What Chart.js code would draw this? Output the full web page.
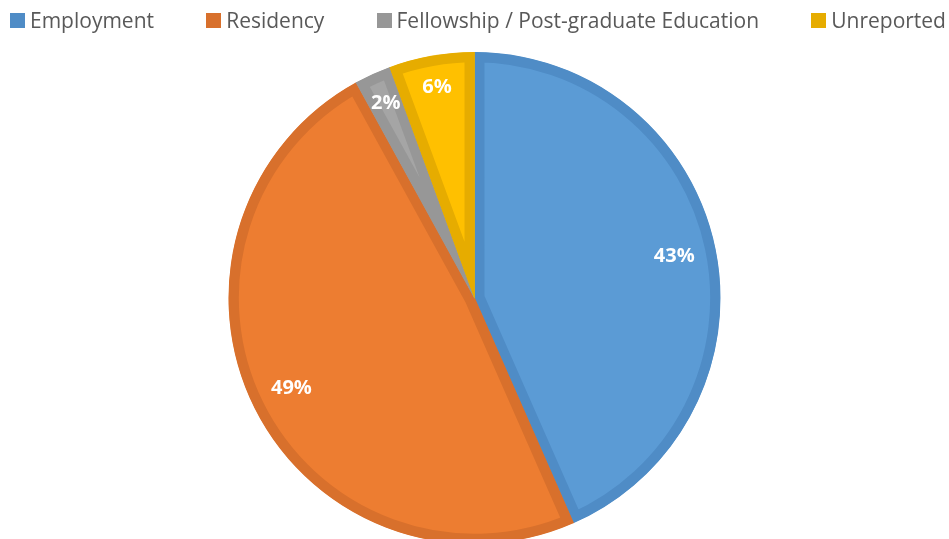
<!DOCTYPE html>
<html>
<head>
<meta charset="utf-8">
<script src="https://cdn.jsdelivr.net/npm/chart.js@4"></script>
<style>
html,body{margin:0;padding:0;background:#fff;overflow:hidden;}
#wrap{position:relative;width:949px;height:544px;}
#legend{position:absolute;left:0;top:0;width:949px;box-sizing:border-box;padding:0 3px 0 10px;height:40px;display:flex;justify-content:space-between;align-items:center;font-family:"Open Sans",sans-serif;font-size:21px;color:#595959;z-index:2;}
#legend .item{display:flex;align-items:center;white-space:nowrap;}
#legend .box{width:15px;height:15px;margin-right:5px;margin-top:1px;}
</style>
</head>
<body>
<div id="wrap"><div id="legend"></div><canvas id="c"></canvas></div>
<script>
const categories = ['Employment', 'Residency', 'Fellowship / Post-graduate Education', 'Unreported'];
const shares = [43.4, 48.6, 2.4, 5.6];
const fillColors = ['#5B9BD5', '#ED7D31', '#A5A5A5', '#FFC000'];
const edgeColors = ['#4F8CC6', '#D8702C', '#979797', '#E6AC00'];

const legendEl = document.getElementById('legend');
categories.forEach((c, i) => {
  const it = document.createElement('div');
  it.className = 'item';
  const b = document.createElement('span');
  b.className = 'box';
  b.style.background = edgeColors[i];
  const t = document.createElement('span');
  t.textContent = c;
  it.appendChild(b); it.appendChild(t);
  legendEl.appendChild(it);
});

const pctLabels = {
  id: 'pctLabels',
  afterDatasetsDraw(chart) {
    const ctx = chart.ctx;
    const meta = chart.getDatasetMeta(0);
    ctx.save();
    ctx.font = 'bold 20px "Open Sans", sans-serif';
    ctx.fillStyle = '#ffffff';
    ctx.textAlign = 'center';
    ctx.textBaseline = 'middle';
    meta.data.forEach((arc, i) => {
      const mid = (arc.startAngle + arc.endAngle) / 2;
      const f = shares[i] < 10 ? 0.87 : 0.83;
      const r = arc.outerRadius * f;
      const x = arc.x + Math.cos(mid) * r;
      const y = arc.y + Math.sin(mid) * r;
      ctx.fillText(Math.round(shares[i]) + '%', x, y);
    });
    ctx.restore();
  }
};

new Chart(document.getElementById('c'), {
  type: 'pie',
  data: {
    labels: categories,
    datasets: [{
      data: shares,
      backgroundColor: fillColors,
      borderColor: edgeColors,
      borderWidth: 10,
      borderAlign: 'inner',
      hoverOffset: 0
    }]
  },
  options: {
    responsive: true,
    maintainAspectRatio: false,
    animation: false,
    layout: { padding: { top: 52, bottom: 0, left: 0, right: 0 } },
    plugins: {
      tooltip: { enabled: false },
      legend: { display: false }
    }
  },
  plugins: [pctLabels]
});
</script>
</body>
</html>
